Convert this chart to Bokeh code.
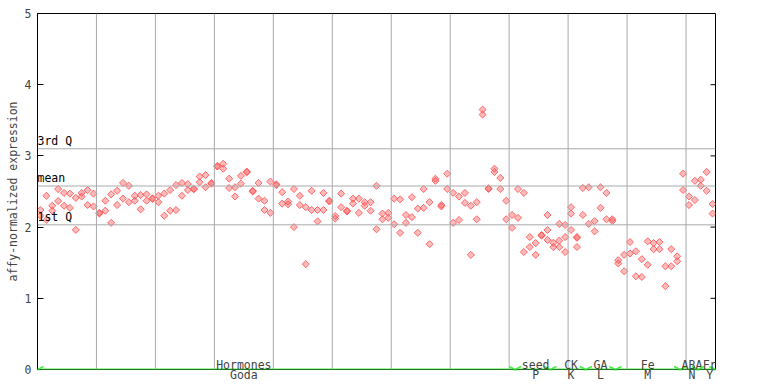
import math
from bokeh.plotting import figure
from bokeh.models import (Span, Label, LinearAxis, FixedTicker, Arrow, OpenHead,
                          ColumnDataSource)
from bokeh.embed import file_html
from bokeh.resources import INLINE

# replicate values per sample (sample index 0..114)
values = [
    [2.24, 2.16], [2.44, 2.10], [2.30, 2.23], [2.535, 2.366], [2.48, 2.30],
    [2.47, 2.27], [2.41, 1.96], [2.48, 2.43], [2.52, 2.31], [2.47, 2.29],
    [2.19, 2.20], [2.37, 2.23], [2.46, 2.06], [2.51, 2.31], [2.62, 2.40],
    [2.58, 2.35], [2.44, 2.37], [2.45, 2.25], [2.46, 2.37], [2.40, 2.40],
    [2.44, 2.35], [2.47, 2.16], [2.52, 2.23], [2.59, 2.24], [2.62, 2.44],
    [2.605, 2.52], [2.53, 2.54], [2.71, 2.63], [2.73, 2.56], [2.61, 2.62],
    [2.85, 2.86], [2.89, 2.82], [2.68, 2.55], [2.56, 2.43], [2.72, 2.61],
    [2.77, 2.78], [2.50, 2.51], [2.62, 2.40], [2.37, 2.24], [2.64, 2.20],
    [2.59, 2.60], [2.49, 2.33], [2.36, 2.32], [2.535, 2.00], [2.44, 2.31],
    [2.28, 1.48], [2.51, 2.24], [2.24, 2.08], [2.48, 2.24], [2.37, 2.36],
    [2.155, 2.12], [2.47, 2.28], [2.22, 2.23], [2.40, 2.33], [2.40, 2.20],
    [2.35, 2.30], [2.35, 2.23], [2.58, 1.97], [2.19, 2.11], [2.20, 2.13],
    [2.40, 2.04], [2.39, 1.92], [2.17, 2.06], [2.42, 2.14], [2.26, 1.92],
    [2.535, 2.27], [2.35, 1.76], [2.68, 2.65], [2.31, 2.29], [2.75, 2.535],
    [2.48, 2.06], [2.43, 2.10], [2.48, 2.34], [2.30, 1.61], [2.35, 2.11],
    [3.65, 3.58], [2.535, 2.545], [2.82, 2.775], [2.69, 2.535], [2.37, 2.11],
    [2.17, 1.99], [2.535, 2.13], [2.48, 1.65], [1.86, 1.72], [1.775, 1.61],
    [1.88, 1.89], [2.17, 1.96, 1.82], [1.78, 1.72], [2.045, 1.81, 1.72],
    [2.03, 1.86, 1.65], [2.28, 2.19, 1.96], [1.85, 1.86, 1.72], [2.55, 2.17],
    [2.56, 2.045], [2.085, 1.94], [2.56, 2.27], [2.48, 2.11], [2.11, 2.085],
    [1.535, 1.49], [1.61, 1.38], [1.79, 1.63], [1.66, 1.31], [1.55, 1.30],
    [1.80, 1.47], [1.775, 1.69], [1.79, 1.69], [1.45, 1.17], [1.69, 1.45],
    [1.59, 1.52], [2.75, 2.52], [2.43, 2.31], [2.65, 2.38], [2.665, 2.58],
    [2.775, 2.51], [2.325, 2.19],
]

# reference lines
ref_names = ["3rd Q", "mean", "1st Q"]
ref_values = [3.10, 2.577, 2.032]

# experiment groups (first sample, last sample)
cat_top = ["Hormones", "seed", "CK", "GA", "Fe", "ABA", "Fr"]
cat_bottom = ["Goda", "P", "K", "L", "M", "N", "Y"]
cat_start = [0, 81, 87, 93, 98, 109, 112]
cat_end = [80, 86, 92, 97, 108, 111, 114]
label_span = [(0, 69), (81, 87), (87, 93), (93, 97), (98, 108), (110, 111), (113, 114)]

y_ticks = [0, 1, 2, 3, 4, 5]

n = len(values)
xs, ys = [], []
for i, reps in enumerate(values):
    for v in reps:
        xs.append(i)
        ys.append(v)

FONT = "DejaVu Sans Mono"
FS = "11.5px"
RED = "#ff5555"
GRID = "#aaaaaa"
GREEN = "#44ee44"

centers = [(a + b) / 2 for a, b in label_span]

p = figure(width=760, height=384, x_range=(-0.5, n - 0.5), y_range=(0, 5),
           output_backend="svg", toolbar_location=None,
           min_border_left=37, min_border_right=45, min_border_top=13,
           min_border_bottom=15, x_axis_location=None, y_axis_location=None)
p.outline_line_color = "black"
p.outline_line_width = 1
p.background_fill_color = "white"
p.border_fill_color = "white"
p.ygrid.visible = False
p.xgrid.visible = False

# vertical separators every 10 samples
for k in range(10, n, 10):
    p.add_layout(Span(location=k - 0.5, dimension="height", line_color=GRID, line_width=1))

for name, v in zip(ref_names, ref_values):
    p.add_layout(Span(location=v, dimension="width", line_color=GRID, line_width=1))
    p.add_layout(Label(x=-0.5, y=v, text=name, y_offset=1, text_baseline="bottom",
                       text_font=FONT, text_font_size=FS, text_color="black"))

left = LinearAxis(ticker=FixedTicker(ticks=y_ticks), axis_label="affy-normalized expression")
left.major_tick_in = 6
left.major_tick_out = 0
left.minor_tick_line_color = None
left.major_label_standoff = 6
left.axis_label_standoff = 2
left.major_label_text_font = FONT
left.major_label_text_font_size = FS
left.axis_label_text_font = FONT
left.axis_label_text_font_size = FS
left.axis_label_text_font_style = "normal"
left.axis_line_color = "black"
p.add_layout(left, "left")

# bottom axis carrying the lower group labels
bottom = LinearAxis(ticker=FixedTicker(ticks=centers),
                    major_label_overrides={c: t for c, t in zip(centers, cat_bottom)})
bottom.major_tick_line_color = None
bottom.major_tick_in = 0
bottom.major_tick_out = 0
bottom.minor_tick_line_color = None
bottom.minor_tick_in = 0
bottom.minor_tick_out = 0
bottom.axis_line_color = None
bottom.major_label_standoff = -2
bottom.major_label_text_font = FONT
bottom.major_label_text_font_size = FS
p.add_layout(bottom, "below")

# right-side ticks
p.ray(x=[n - 0.5] * len(y_ticks), y=y_ticks, length=5, length_units="screen",
      angle=math.pi, line_color="black", line_width=1)

src = ColumnDataSource(dict(x=xs, y=ys))
p.scatter("x", "y", source=src, marker="square", angle=0.785398, size=5,
          line_color=RED, line_width=1, fill_color=RED, fill_alpha=0.4, line_alpha=0.85)

for top, s, e, c in zip(cat_top, cat_start, cat_end, centers):
    p.add_layout(Arrow(start=OpenHead(size=6, line_color=GREEN, line_width=1.5),
                       end=OpenHead(size=6, line_color=GREEN, line_width=1.5),
                       x_start=s - 0.5, y_start=0, x_end=e + 0.5, y_end=0,
                       line_color=GREEN, line_width=2))
    p.add_layout(Label(x=c, y=0, text=top, y_offset=5, text_align="center",
                       text_baseline="alphabetic", text_font=FONT, text_font_size=FS))

open("out.html", "w").write(file_html(p, INLINE))
